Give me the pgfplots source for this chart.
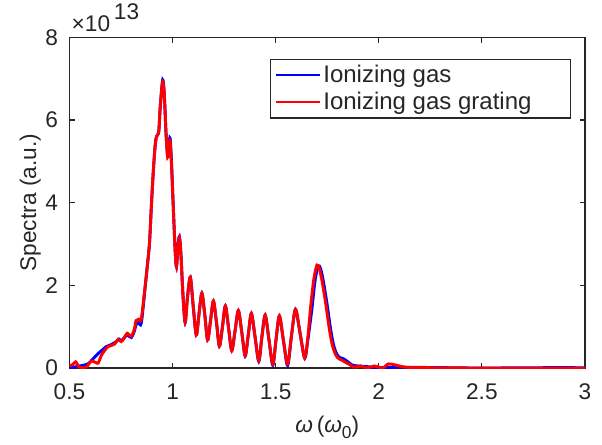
\documentclass[border=0pt]{standalone}
\usepackage{pgfplots}
\pgfplotsset{compat=1.18}
\usepackage{fontspec}
\setmainfont{Liberation Sans}
\definecolor{axgray}{rgb}{0.15,0.15,0.15}
\begin{document}
\begin{tikzpicture}
\begin{axis}[
  scale only axis, width=386.6pt, height=248pt,
  xmin=0.5, xmax=3, ymin=0, ymax=8,
  xtick={0.5,1,1.5,2,2.5,3}, xticklabels={0.5,1,1.5,2,2.5,3},
  ytick={0,2,4,6,8},
  tick align=inside, major tick length=4pt,
  axis line style={axgray, line width=0.9pt},
  every tick/.style={axgray, line width=0.9pt},
  tick label style={font=\fontsize{17}{20}\selectfont, text=axgray},
  xticklabel style={yshift=-8pt},
  yticklabel style={xshift=-5pt},
  /pgf/number format/assume math mode=true,
  xlabel={\itshape ω\upshape\,(\itshape ω\upshape\raisebox{-0.45ex}{\fontsize{13}{14}\selectfont 0})},
  xlabel style={font=\fontsize{17}{20}\selectfont, text=axgray, at={(axis description cs:0.5,-0.18)}, anchor=center},
  ylabel={Spectra (a.u.)},
  ylabel style={font=\fontsize{17}{20}\selectfont, text=axgray, at={(axis description cs:-0.076,0.5)}, anchor=center, rotate=0},
  legend style={at={(1,1)}, anchor=north east, xshift=-10.7pt, yshift=-16pt,
    draw=axgray, line width=0.8pt, font=\fontsize{18}{22}\selectfont, text=axgray,
    inner xsep=3pt, inner ysep=2.5pt, row sep=2pt},
  legend cell align=left,
  legend image code/.code={\draw[#1,line width=1.4pt] (0pt,0pt) -- (33pt,0pt);},
]
\addplot[blue, line width=2.2pt, smooth, tension=0.5] coordinates {
(0.500,0.02)(0.520,0.02)(0.540,0.04)(0.560,0.06)(0.590,0.10)(0.610,0.20)(0.625,0.28)
(0.639,0.35)(0.660,0.44)(0.679,0.52)(0.700,0.56)(0.727,0.64)(0.740,0.70)(0.751,0.66)
(0.765,0.73)(0.780,0.80)(0.800,0.74)(0.815,0.90)(0.823,1.05)(0.835,1.10)(0.848,1.08)
(0.864,1.80)(0.876,2.40)(0.888,3.02)(0.898,4.00)(0.907,4.79)(0.915,5.35)(0.922,5.60)
(0.933,5.72)(0.940,6.30)(0.952,6.97)(0.960,6.60)(0.968,5.70)(0.976,5.15)(0.982,5.40)
(0.988,5.56)(0.995,4.95)(1.005,3.70)(1.013,2.80)(1.019,2.45)(1.026,2.95)(1.033,3.18)
(1.040,2.80)(1.050,1.80)(1.061,1.10)(1.072,1.70)(1.086,2.20)(1.100,1.50)(1.115,0.80)
(1.128,1.30)(1.142,1.81)(1.156,1.30)(1.170,0.68)(1.184,1.15)(1.198,1.62)(1.213,1.10)
(1.227,0.53)(1.242,1.00)(1.256,1.50)(1.272,0.95)(1.287,0.42)(1.303,0.90)(1.319,1.39)
(1.336,0.85)(1.352,0.29)(1.367,0.80)(1.382,1.32)(1.400,0.75)(1.418,0.16)(1.433,0.75)
(1.449,1.28)(1.467,0.70)(1.486,0.07)(1.502,0.70)(1.518,1.26)(1.538,0.65)(1.558,0.06)
(1.577,0.80)(1.596,1.42)(1.618,0.85)(1.641,0.24)(1.656,0.68)(1.676,1.45)(1.691,2.12)
(1.706,2.47)(1.718,2.40)(1.731,2.10)(1.749,1.55)(1.766,0.95)(1.781,0.55)(1.797,0.33)
(1.812,0.25)(1.830,0.22)(1.850,0.15)(1.872,0.07)(1.900,0.05)(1.950,0.03)(2.000,0.01)
(2.100,0.02)(2.300,0.01)(2.500,0.00)(2.900,0.01)(3.000,0.00)};
\addlegendentry{Ionizing gas}
\addplot[red, line width=2.2pt, smooth, tension=0.5] coordinates {
(0.500,0.05)(0.515,0.08)(0.530,0.15)(0.545,0.03)(0.560,0.01)(0.583,0.03)(0.600,0.14)
(0.607,0.17)(0.625,0.14)(0.639,0.12)(0.655,0.31)(0.670,0.42)(0.687,0.52)(0.705,0.55)
(0.719,0.58)(0.735,0.69)(0.751,0.64)(0.765,0.72)(0.780,0.84)(0.800,0.77)(0.815,0.95)
(0.823,1.15)(0.835,1.18)(0.848,1.18)(0.864,1.85)(0.876,2.40)(0.888,3.02)(0.898,4.00)
(0.907,4.79)(0.915,5.35)(0.922,5.60)(0.933,5.72)(0.940,6.30)(0.952,6.93)(0.960,6.60)
(0.968,5.70)(0.976,5.10)(0.982,5.35)(0.988,5.48)(0.995,4.90)(1.005,3.70)(1.013,2.80)
(1.019,2.45)(1.026,2.90)(1.033,3.15)(1.040,2.80)(1.050,1.80)(1.061,1.10)(1.072,1.70)
(1.086,2.20)(1.100,1.50)(1.115,0.80)(1.128,1.30)(1.142,1.81)(1.156,1.30)(1.170,0.68)
(1.184,1.15)(1.198,1.62)(1.213,1.10)(1.227,0.53)(1.242,1.00)(1.256,1.50)(1.272,0.95)
(1.287,0.42)(1.303,0.90)(1.319,1.39)(1.336,0.85)(1.352,0.30)(1.367,0.80)(1.382,1.32)
(1.400,0.75)(1.418,0.18)(1.433,0.75)(1.449,1.28)(1.467,0.70)(1.486,0.10)(1.502,0.70)
(1.518,1.26)(1.538,0.65)(1.558,0.10)(1.577,0.80)(1.596,1.42)(1.618,0.85)(1.640,0.25)
(1.655,0.70)(1.670,1.50)(1.685,2.15)(1.700,2.49)(1.712,2.40)(1.725,2.10)(1.743,1.55)
(1.760,0.95)(1.775,0.55)(1.792,0.31)(1.808,0.22)(1.824,0.18)(1.845,0.12)(1.860,0.08)
(1.881,0.02)(1.913,0.05)(1.945,0.00)(1.978,0.05)(2.018,0.00)(2.047,0.10)(2.083,0.07)
(2.130,0.02)(2.200,0.01)(2.500,0.00)(3.000,0.00)};
\addlegendentry{Ionizing gas grating\rule{24pt}{0pt}}
\end{axis}
\node[anchor=base west, font=\fontsize{17}{20}\selectfont, text=axgray, inner sep=0pt]
  at ([xshift=1.5pt,yshift=4.5pt]current axis.north west) {×10\,\raisebox{1.0ex}{13}};
\pgfresetboundingbox
\path[use as bounding box] ([xshift=-52.1pt,yshift=-57pt]current axis.south west) rectangle ([xshift=12.75pt,yshift=28pt]current axis.north east);
\end{tikzpicture}
\end{document}
